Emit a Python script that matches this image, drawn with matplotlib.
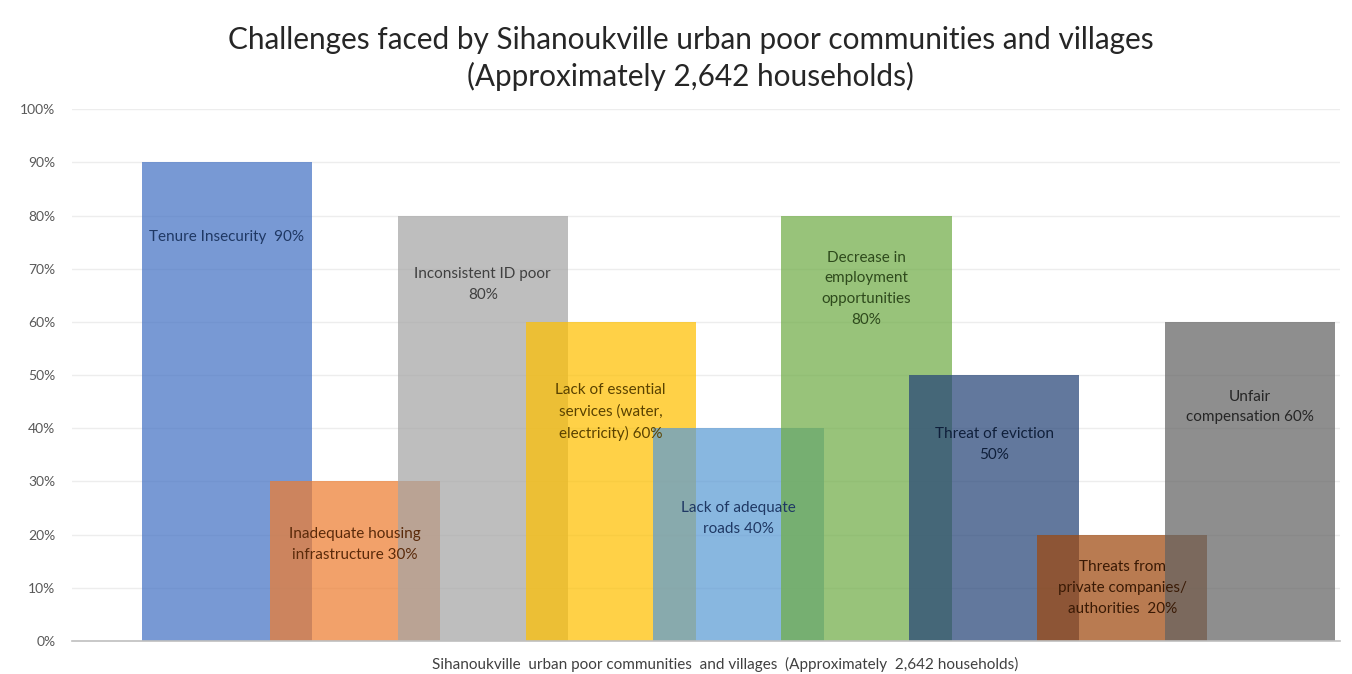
import numpy as np
import matplotlib
matplotlib.use("Agg")
import matplotlib.pyplot as plt
from matplotlib.ticker import PercentFormatter

# Share of households reporting each challenge (%)
label_names = [
    "Tenure Insecurity  ",
    "Inadequate housing\ninfrastructure ",
    "Inconsistent ID poor\n",
    "Lack of essential\nservices (water,\nelectricity) ",
    "Lack of adequate\nroads ",
    "Decrease in\nemployment\nopportunities\n",
    "Threat of eviction\n",
    "Threats from\nprivate companies/\nauthorities  ",
    "Unfair\ncompensation ",
]
values = [90, 30, 80, 60, 40, 80, 50, 20, 60]

# Office-style palette, one colour per challenge
bar_colors = ["#4472C4", "#ED7D31", "#A5A5A5", "#FFC000", "#5B9BD5",
              "#70AD47", "#264478", "#9E480E", "#636363"]
text_colors = ["#1F3864", "#5A2A0A", "#404040", "#5A4200", "#1F3864",
               "#2E4A1C", "#0F1F3A", "#3A1A05", "#262626"]
# vertical placement of each label inside its bar (%)
label_y = [76, 18.2, 67, 43, 23, 66.2, 37, 10, 44]

plt.rcParams["font.family"] = ["Lato", "DejaVu Sans"]

fig = plt.figure(figsize=(13.52, 6.74), dpi=100)
ax = fig.add_axes([0.0533, 0.049, 0.9377, 0.789])

x = np.arange(len(values))
ax.bar(x, values, width=1.33, color=bar_colors, alpha=0.72, zorder=2)

for xi, name, v, ly, tc in zip(x, label_names, values, label_y, text_colors):
    ax.text(xi, ly, f"{name}{v}%", ha="center", va="center", fontsize=11,
            color=tc, linespacing=1.63, zorder=3)

ax.set_xlim(-1.21, 8.70)
ax.set_ylim(0, 100)
ax.set_yticks(np.arange(0, 101, 10))
ax.yaxis.set_major_formatter(PercentFormatter(decimals=0))
ax.tick_params(axis="y", length=0, pad=12, labelsize=10, labelcolor="#595959")
ax.set_xticks([])
ax.grid(axis="y", color="#EDEDED", linewidth=1, zorder=0)
for side in ["top", "right", "left"]:
    ax.spines[side].set_visible(False)
ax.spines["bottom"].set_color("#BFBFBF")
ax.spines["bottom"].set_linewidth(1.2)

ax.set_xlabel("Sihanoukville  urban poor communities  and villages  (Approximately  2,642 households)",
              fontsize=11, color="#404040")
ax.xaxis.set_label_coords(0.515, -0.03)

fig.text(0.511, 0.94, "Challenges faced by Sihanoukville urban poor communities and villages",
         ha="center", va="center", fontsize=21.4, color="#262626")
fig.text(0.511, 0.887, "(Approximately 2,642 households)",
         ha="center", va="center", fontsize=21.4, color="#262626")

fig.savefig("out.png", dpi=100)
